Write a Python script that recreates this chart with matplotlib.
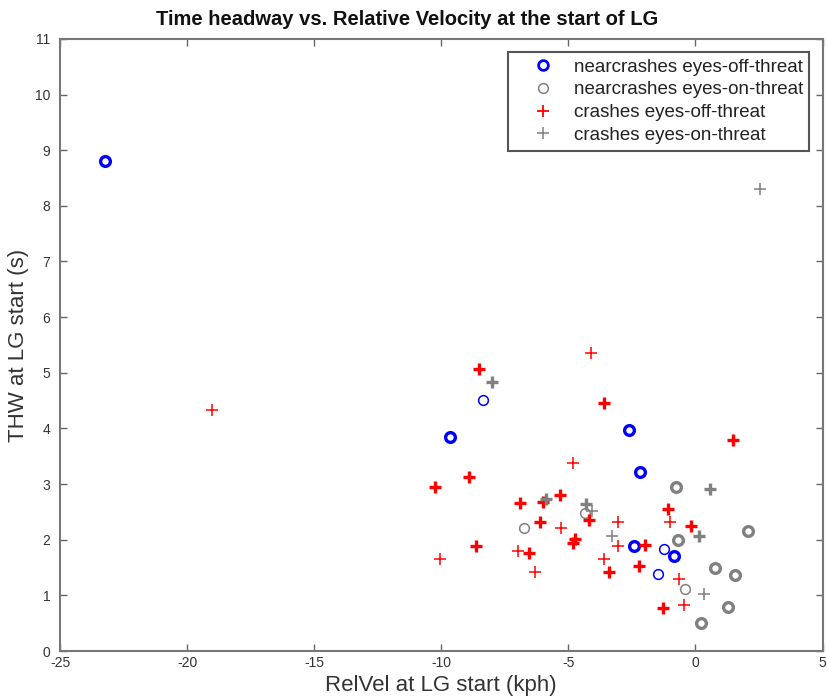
import numpy as np
import matplotlib
matplotlib.use('Agg')
import matplotlib.pyplot as plt
from matplotlib.lines import Line2D

plt.rcParams['font.family'] = ['Liberation Sans', 'DejaVu Sans']
plt.rcParams['axes.unicode_minus'] = False

# nearcrashes, eyes off threat
nc_off_x = [-23.23, -9.67, -2.62, -2.19, -2.40, -0.83, -8.37, -1.22, -1.47]
nc_off_y = [8.81, 3.84, 3.97, 3.21, 1.88, 1.71, 4.51, 1.83, 1.38]
nc_off_bold = [1, 1, 1, 1, 1, 1, 0, 0, 0]

# nearcrashes, eyes on threat
nc_on_x = [-0.76, -0.70, 2.07, 0.77, 1.55, 1.30, 0.21, -6.76, -4.34, -0.43]
nc_on_y = [2.95, 2.00, 2.15, 1.50, 1.36, 0.80, 0.50, 2.21, 2.48, 1.12]
nc_on_bold = [1, 1, 1, 1, 1, 1, 1, 0, 0, 0]

# crashes, eyes off threat
cr_off_x = [-8.50, -3.61, 1.48, -8.90, -10.25, -6.89, -6.01, -5.34, -1.09, -0.18,
            -4.19, -6.11, -4.72, -4.80, -8.64, -6.55, -1.98, -2.24, -3.41, -1.27,
            -19.02, -4.12, -4.83, -5.28, -3.05, -1.02, -3.05, -10.05, -6.97, -6.31,
            -3.60, -0.64, -0.45]
cr_off_y = [5.07, 4.45, 3.80, 3.13, 2.95, 2.66, 2.67, 2.81, 2.56, 2.24,
            2.35, 2.31, 2.02, 1.94, 1.89, 1.77, 1.91, 1.53, 1.42, 0.77,
            4.33, 5.35, 3.38, 2.21, 2.31, 2.32, 1.88, 1.65, 1.80, 1.42,
            1.65, 1.30, 0.83]
cr_off_bold = [1] * 20 + [0] * 13

# crashes, eyes on threat
cr_on_x = [-7.99, -5.87, -4.32, 0.59, 0.13, 2.52, -4.08, -3.28, 0.33]
cr_on_y = [4.83, 2.74, 2.64, 2.91, 2.06, 8.31, 2.52, 2.06, 1.03]
cr_on_bold = [1, 1, 1, 1, 1, 0, 0, 0, 0]

labels = ['nearcrashes eyes-off-threat', 'nearcrashes eyes-on-threat',
          'crashes eyes-off-threat', 'crashes eyes-on-threat']

fig = plt.figure(figsize=(8.27, 6.98), dpi=100)
ax = fig.add_axes([0.0726, 0.0673, 0.922, 0.877])

gray = '#808080'
series = [
    (nc_off_x, nc_off_y, nc_off_bold, 'o', 'blue', 7),
    (nc_on_x, nc_on_y, nc_on_bold, 'o', gray, 7),
    (cr_off_x, cr_off_y, cr_off_bold, '+', 'red', 9),
    (cr_on_x, cr_on_y, cr_on_bold, '+', gray, 9),
]

for xs, ys, bold, mk, col, ms in series:
    xs = np.array(xs)
    ys = np.array(ys)
    b = np.array(bold, dtype=bool)
    ax.plot(xs[~b], ys[~b], mk, color=col, mfc='none', ms=ms, mew=1.1, ls='none')
    ax.plot(xs[b], ys[b], mk, color=col, mfc='none', ms=ms, mew=2.4, ls='none')

handles = [
    Line2D([], [], marker='o', color='blue', mfc='none', ms=7, mew=2.0, ls='none'),
    Line2D([], [], marker='o', color=gray, mfc='none', ms=7, mew=1.1, ls='none'),
    Line2D([], [], marker='+', color='red', ms=9, mew=1.3, ls='none'),
    Line2D([], [], marker='+', color=gray, ms=9, mew=1.1, ls='none'),
]
leg = ax.legend(handles, labels, loc='upper right', fontsize=13.5, fancybox=False,
                framealpha=1, edgecolor='#555555', borderpad=0.35, labelspacing=0.3,
                handletextpad=0.15, borderaxespad=0.7, handlelength=3.0)
leg.get_frame().set_linewidth(1.5)
for t in leg.get_texts():
    t.set_color('#222222')

ax.set_xlim(-25, 5)
ax.set_ylim(0, 11)
ax.set_xticks(np.arange(-25, 6, 5))
ax.set_yticks(np.arange(0, 12, 1))
ax.tick_params(direction='in', top=True, right=True, length=5, width=1,
               colors='#666666', labelcolor='#333333', labelsize=10)
ax.tick_params(axis='y', pad=7)
for s in ax.spines.values():
    s.set_color('#777777')
    s.set_linewidth(1.5)

ax.set_xlabel('RelVel at LG start (kph)', fontsize=16, color='#333333', labelpad=4)
ax.set_ylabel('THW at LG start (s)', fontsize=16, color='#333333', labelpad=4)
ax.set_title('Time headway vs. Relative Velocity at the start of LG',
             fontsize=14.5, fontweight='bold', color='#111111', pad=10, x=0.455)

fig.savefig('out.png', dpi=100)
